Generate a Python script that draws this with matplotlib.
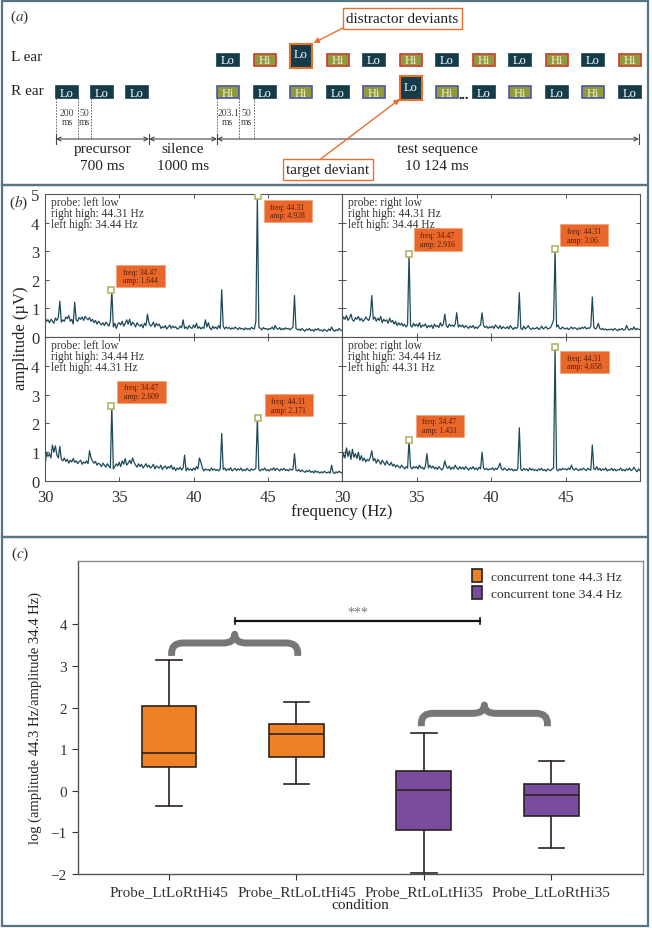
import numpy as np
import matplotlib.pyplot as plt
from matplotlib.patches import Rectangle, PathPatch, Patch
from matplotlib.path import Path

plt.rcParams['font.family'] = ['Liberation Serif', 'DejaVu Serif']
plt.rcParams['mathtext.fontset'] = 'stix'

# ---------------- data ----------------
# (a) stimulus sequence
precursor_tones = ['Lo', 'Lo', 'Lo']
left_tones = ['Lo', 'Hi', 'Lo', 'Hi', 'Lo', 'Hi', 'Lo', 'Hi', 'Lo', 'Hi', 'Lo', 'Hi']
right_tones = ['Hi', 'Lo', 'Hi', 'Lo', 'Hi', 'Lo', 'Hi', 'Lo', 'Hi', 'Lo', 'Hi', 'Lo']
left_deviant = 2
right_deviant = 5
segment_names = ['precursor', 'silence', 'test sequence']
segment_durations = ['700 ms', '1000 ms', '10 124 ms']

# (b) amplitude spectra, 30-50 Hz in 0.1 Hz steps
freq = np.round(np.arange(30, 50.05, 0.1), 1)
amp_tl = [
    0.72, 0.55, 0.60, 0.50, 0.62, 0.56, 0.48, 0.66, 0.58, 0.70,
    1.25, 0.52, 0.60, 0.55, 0.70, 0.64, 0.75, 0.55, 0.62, 0.45,
    1.22, 0.60, 0.55, 0.68, 0.62, 0.70, 0.58, 0.72, 0.65, 0.60,
    0.68, 0.55, 0.62, 0.50, 0.58, 0.45, 0.55, 0.48, 0.42, 0.50,
    0.40, 0.52, 0.45, 0.38, 0.55, 1.64, 0.35, 0.48, 0.30, 0.45,
    0.50, 0.42, 0.55, 0.38, 0.48, 0.60, 0.45, 0.62, 0.40, 0.52,
    0.45, 0.35, 0.50, 0.42, 0.38, 0.45, 0.32, 0.48, 0.40, 0.80,
    0.50, 0.38, 0.42, 0.52, 0.35, 0.48, 0.40, 0.45, 0.30, 0.36,
    0.32, 0.40, 0.28, 0.35, 0.42, 0.30, 0.38, 0.33, 0.36, 0.28,
    0.30, 0.38, 0.32, 0.60, 0.30, 0.35, 0.28, 0.40, 0.33, 0.30,
    0.42, 0.32, 0.48, 0.30, 0.36, 0.28, 0.34, 0.30, 0.60, 0.35,
    0.50, 0.32, 0.25, 0.38, 0.30, 0.35, 0.28, 0.40, 0.30, 1.65,
    0.38, 0.28, 0.35, 0.30, 0.33, 0.27, 0.32, 0.28, 0.35, 0.30,
    0.26, 0.33, 0.28, 0.30, 0.25, 0.32, 0.27, 0.30, 0.26, 0.34,
    0.30, 0.28, 0.55, 4.93, 0.35, 0.30, 0.25, 0.33, 0.28, 0.30,
    0.25, 0.30, 0.28, 0.35, 0.26, 0.40, 0.30, 0.27, 0.33, 0.25,
    0.30, 0.26, 0.32, 0.28, 0.30, 0.25, 0.30, 0.35, 1.45, 0.30,
    0.25, 0.28, 0.22, 0.30, 0.25, 0.20, 0.28, 0.24, 0.30, 0.22,
    0.26, 0.20, 0.28, 0.24, 0.30, 0.22, 0.25, 0.20, 0.27, 0.23,
    0.20, 0.28, 0.22, 0.35, 0.25, 0.20, 0.26, 0.22, 0.30, 0.24,
    0.22]
amp_tr = [
    0.55, 0.70, 0.62, 0.75, 0.58, 0.66, 0.80, 0.60, 0.55, 0.68,
    0.62, 0.72, 0.58, 0.65, 0.55, 0.60, 0.70, 0.62, 0.58, 0.75,
    1.45, 0.62, 0.70, 0.55, 0.66, 0.58, 0.72, 0.50, 0.62, 0.55,
    0.60, 0.48, 0.66, 0.52, 0.58, 0.45, 0.55, 0.40, 0.50, 0.42,
    0.48, 0.38, 0.45, 0.35, 0.42, 2.92, 0.40, 0.35, 0.48, 0.38,
    0.45, 0.36, 0.50, 0.33, 0.42, 0.38, 0.46, 0.32, 0.40, 0.35,
    0.42, 0.30, 0.45, 0.36, 0.40, 0.33, 0.50, 0.38, 0.45, 0.80,
    0.40, 0.33, 0.45, 0.38, 0.42, 0.36, 0.45, 0.85, 0.35, 0.42,
    0.36, 0.42, 0.32, 0.40, 0.35, 0.30, 0.38, 0.33, 0.40, 0.30,
    0.35, 0.30, 0.38, 0.42, 0.85, 0.40, 0.33, 0.38, 0.30, 0.36,
    0.32, 0.38, 0.30, 0.42, 0.35, 0.30, 0.40, 0.28, 0.36, 0.32,
    0.30, 0.36, 0.28, 0.40, 0.32, 0.26, 0.34, 0.30, 0.35, 1.55,
    0.30, 0.26, 0.38, 0.28, 0.33, 0.40, 0.30, 0.26, 0.32, 0.28,
    0.30, 0.34, 0.26, 0.30, 0.38, 0.28, 0.32, 0.36, 0.28, 0.30,
    0.33, 0.45, 0.60, 3.06, 0.35, 0.42, 0.30, 0.28, 0.35, 0.30,
    0.28, 0.32, 0.26, 0.30, 0.35, 0.28, 0.33, 0.30, 0.26, 0.32,
    0.28, 0.34, 0.30, 0.36, 0.28, 0.32, 0.30, 0.38, 1.40, 0.35,
    0.28, 0.32, 0.48, 0.30, 0.26, 0.30, 0.25, 0.28, 0.24, 0.27,
    0.25, 0.28, 0.23, 0.30, 0.26, 0.22, 0.28, 0.25, 0.30, 0.24,
    0.26, 0.40, 0.28, 0.24, 0.30, 0.26, 0.35, 0.25, 0.30, 0.27,
    0.26]
amp_bl = [
    0.50, 1.00, 0.85, 0.95, 0.80, 1.25, 1.00, 1.22, 0.90, 0.80,
    1.20, 0.75, 0.70, 0.80, 0.68, 0.75, 0.62, 0.72, 0.66, 0.78,
    0.65, 0.70, 0.60, 0.68, 0.72, 0.58, 0.66, 0.62, 0.70, 0.60,
    1.05, 0.80, 0.70, 0.62, 0.68, 0.55, 0.62, 0.58, 0.50, 0.62,
    0.55, 0.48, 0.60, 0.52, 0.45, 2.61, 0.42, 0.50, 0.60, 0.52,
    0.65, 0.50, 0.70, 0.58, 0.78, 0.55, 0.62, 0.72, 0.60, 0.80,
    0.65, 0.55, 0.48, 0.60, 0.50, 0.58, 0.45, 0.52, 0.60, 0.48,
    0.55, 0.45, 0.50, 0.58, 0.42, 0.52, 0.48, 0.45, 0.55, 0.40,
    0.48, 0.52, 0.42, 0.50, 0.45, 0.55, 0.40, 0.48, 0.36, 0.45,
    0.40, 0.48, 0.38, 0.45, 0.90, 0.35, 0.45, 0.38, 0.42, 0.36,
    0.45, 0.38, 0.50, 0.42, 0.80, 0.65, 0.45, 0.35, 0.42, 0.38,
    0.40, 0.35, 0.45, 0.38, 0.42, 0.36, 0.40, 0.35, 0.42, 1.65,
    0.40, 0.45, 0.36, 0.42, 0.38, 0.46, 0.35, 0.40, 0.44, 0.36,
    0.42, 0.38, 0.45, 0.35, 0.40, 0.36, 0.44, 0.38, 0.35, 0.42,
    0.38, 0.40, 0.45, 2.17, 0.40, 0.35, 0.42, 0.38, 0.45, 0.36,
    0.40, 0.35, 0.42, 0.38, 0.46, 0.36, 0.44, 0.40, 0.35, 0.42,
    0.38, 0.44, 0.36, 0.40, 0.35, 0.42, 0.38, 0.40, 0.95, 0.38,
    0.35, 0.40, 0.32, 0.38, 0.34, 0.30, 0.36, 0.32, 0.38, 0.30,
    0.34, 0.28, 0.36, 0.30, 0.33, 0.27, 0.32, 0.28, 0.34, 0.30,
    0.28, 0.32, 0.27, 0.55, 0.30, 0.26, 0.32, 0.28, 0.34, 0.30,
    0.28]
amp_br = [
    0.70, 0.95, 0.80, 1.15, 0.85, 1.05, 0.75, 1.10, 0.82, 0.95,
    0.78, 1.00, 0.72, 0.88, 0.70, 0.80, 0.66, 0.75, 0.70, 0.82,
    1.05, 0.70, 0.78, 0.62, 0.75, 0.68, 0.58, 0.72, 0.64, 0.55,
    0.70, 0.60, 0.55, 0.65, 0.52, 0.58, 0.48, 0.55, 0.50, 0.45,
    0.55, 0.48, 0.42, 0.50, 0.45, 1.43, 0.48, 0.42, 0.50, 0.45,
    0.50, 0.42, 0.55, 0.45, 0.48, 0.40, 0.52, 0.95, 0.45, 0.55,
    0.45, 0.52, 0.42, 0.48, 0.40, 0.50, 0.44, 0.38, 0.46, 0.70,
    0.50, 0.44, 0.52, 0.40, 0.48, 0.42, 0.55, 0.45, 0.40, 0.50,
    0.42, 0.48, 0.40, 0.50, 0.44, 0.38, 0.46, 0.42, 0.50, 0.40,
    0.45, 0.38, 0.48, 0.42, 1.00, 0.45, 0.40, 0.44, 0.38, 0.42,
    0.40, 0.46, 0.38, 0.44, 0.40, 0.48, 0.62, 0.42, 0.38, 0.45,
    0.40, 0.36, 0.44, 0.38, 0.42, 0.35, 0.40, 0.36, 0.44, 1.85,
    0.40, 0.36, 0.44, 0.38, 0.42, 0.35, 0.45, 0.38, 0.42, 0.36,
    0.40, 0.35, 0.42, 0.38, 0.44, 0.36, 0.40, 0.34, 0.42, 0.38,
    0.36, 0.42, 0.45, 4.66, 0.40, 0.35, 0.42, 0.38, 0.44, 0.40,
    0.42, 0.38, 0.45, 0.40, 0.55, 0.42, 0.38, 0.44, 0.40, 0.36,
    0.42, 0.38, 0.45, 0.40, 0.36, 0.44, 0.40, 0.38, 1.25, 0.42,
    0.40, 0.50, 0.38, 0.44, 0.36, 0.42, 0.38, 0.45, 0.35, 0.40,
    0.38, 0.44, 0.36, 0.42, 0.35, 0.40, 0.38, 0.45, 0.36, 0.40,
    0.35, 0.42, 0.38, 0.45, 0.36, 0.40, 0.48, 0.38, 0.32, 0.42,
    0.36]

panel_texts = [
    'probe: left low\nright high: 44.31 Hz\nleft high: 34.44 Hz',
    'probe: right low\nright high: 44.31 Hz\nleft high: 34.44 Hz',
    'probe: left low\nright high: 34.44 Hz\nleft high: 44.31 Hz',
    'probe: right low\nright high: 34.44 Hz\nleft high: 44.31 Hz',
]
tip_freq = [34.47, 44.31]
tip_amp = [[1.644, 4.928], [2.916, 3.06], [2.609, 2.171], [1.431, 4.658]]
tip_amp_text = [['1.644', '4.928'], ['2.916', '3.06'], ['2.609', '2.171'], ['1.431', '4.658']]

# (c) box statistics
conditions = ['Probe_LtLoRtHi45', 'Probe_RtLoLtHi45', 'Probe_RtLoLtHi35', 'Probe_LtLoRtHi35']
whis_lo = [-0.36, 0.16, -1.97, -1.37]
q1 = [0.57, 0.81, -0.94, -0.60]
medians = [0.91, 1.36, 0.02, -0.10]
q3 = [2.04, 1.60, 0.47, 0.17]
whis_hi = [3.14, 2.13, 1.39, 0.72]
groups = ['44.3', '44.3', '34.4', '34.4']

# ---------------- figure ----------------
W, H = 652, 929
fig = plt.figure(figsize=(W / 100, H / 100), dpi=100)
bg = fig.add_axes([0, 0, 1, 1], zorder=0)
bg.set_xlim(0, W)
bg.set_ylim(H, 0)
bg.axis('off')


def px_axes(x0, y0, x1, y1):
    return fig.add_axes([x0 / W, 1 - y1 / H, (x1 - x0) / W, (y1 - y0) / H])


frame_col = '#557583'
for (y0, y1) in [(2, 186), (186, 538), (538, 927)]:
    bg.add_patch(Rectangle((2, y0), 646, y1 - y0, fill=False, ec=frame_col, lw=1.6))

# ---------------- (a) ----------------
lo_col = '#143d49'
hi_col = '#8e9a3c'
dev_col = '#e8702c'
bg.text(10, 17, r'($a$)', fontsize=11, va='center', color='#333')
bg.text(11, 57, 'L ear', fontsize=11, va='center', color='#222')
bg.text(11, 91, 'R ear', fontsize=11, va='center', color='#222')

bw, bh = 22, 12


def tone_box(x, ytop, kind, edge=None, deviant=False):
    if deviant:
        h = 24
        y = ytop + bh + 2 - h
        bg.add_patch(Rectangle((x, y), bw, h, fc=lo_col, ec=dev_col, lw=1.5, zorder=3))
        bg.text(x + bw / 2, y + h * 0.45, kind, color='white', fontsize=9,
                ha='center', va='center', zorder=4)
        return
    fc = lo_col if kind == 'Lo' else hi_col
    ec = edge if edge else fc
    bg.add_patch(Rectangle((x, ytop), bw, bh, fc=fc, ec=ec, lw=1.2, zorder=3))
    bg.text(x + bw / 2, ytop + bh / 2 + 0.5, kind, color='white' if kind == 'Lo' else '#f1f0d2',
            fontsize=9, ha='center', va='center', zorder=4)


for k, t in enumerate(precursor_tones):
    tone_box(56 + 35 * k, 87, t)

x_test = 217
step = 36.5
for k, t in enumerate(left_tones):
    tone_box(x_test + step * k, 54.5, t, edge='#d23a2e' if t == 'Hi' else None,
             deviant=(k == left_deviant))
for k, t in enumerate(right_tones):
    tone_box(x_test + step * k, 87, t, edge='#4b57a6' if t == 'Hi' else None,
             deviant=(k == right_deviant))
bg.text(x_test + step * 6 + bw + 0.5, 95, '...', fontsize=10, fontweight='bold',
        ha='left', va='center', color='#111', zorder=5)

# dashed markers and tone/gap durations
for xs, labels in [([56, 78, 91], ['200\nms', '50\nms']), ([217, 239, 254], ['203.1\nms', '50\nms'])]:
    for x in xs:
        bg.plot([x, x], [99, 140], ls=(0, (2, 1.5)), color='#555', lw=0.6, zorder=2)
    for i, lab in enumerate(labels):
        bg.text((xs[i] + xs[i + 1]) / 2, 118, lab, fontsize=7, ha='center', va='center',
                color='#444', linespacing=0.9, zorder=1)

bounds = [56, 149, 217, 639]
for i, name in enumerate(segment_names):
    bg.annotate('', xy=(bounds[i], 140), xytext=(bounds[i + 1], 140),
                arrowprops=dict(arrowstyle='<->', color='#444', lw=0.8,
                                shrinkA=0, shrinkB=0, mutation_scale=7))
    xc = (bounds[i] + bounds[i + 1]) / 2
    if i == 2:
        xc = 437
    bg.text(xc, 149, name, fontsize=11, ha='center', va='center', color='#222')
    bg.text(xc, 166, segment_durations[i], fontsize=11, ha='center', va='center', color='#222')
for x in bounds:
    bg.plot([x, x], [135, 145], color='#444', lw=0.8)

# callouts
bg.text(402.5, 19.5, 'distractor deviants', fontsize=11, ha='center', va='center', color='#222',
        bbox=dict(boxstyle='square,pad=0.25', fc='white', ec=dev_col, lw=1.0), zorder=5)
bg.annotate('', xy=(313.5, 44), xytext=(343, 29),
            arrowprops=dict(arrowstyle='-|>', color=dev_col, lw=1.0, shrinkA=0, shrinkB=0,
                            mutation_scale=8))
bg.text(328, 170.5, 'target deviant', fontsize=11, ha='center', va='center', color='#222',
        bbox=dict(boxstyle='square,pad=0.25', fc='white', ec=dev_col, lw=1.0), zorder=5)
bg.annotate('', xy=(400, 100), xytext=(318, 162),
            arrowprops=dict(arrowstyle='-|>', color=dev_col, lw=1.0, shrinkA=0, shrinkB=0,
                            mutation_scale=8), zorder=4)

# ---------------- (b) ----------------
ax_tl = px_axes(45, 195, 342, 338)
ax_tr = px_axes(342, 195, 640, 338)
ax_bl = px_axes(45, 338, 342, 482)
ax_br = px_axes(342, 338, 640, 482)
spec_axes = [ax_tl, ax_tr, ax_bl, ax_br]
spectra = [amp_tl, amp_tr, amp_bl, amp_br]
tip_offsets = [[(3, 3, 'bottom'), (4, -4, 'top')], [(3, 3, 'bottom'), (3, 3, 'bottom')],
               [(4, 3, 'bottom'), (5, 2, 'bottom')], [(5, 3, 'bottom'), (3, -4, 'top')]]

for i, ax in enumerate(spec_axes):
    ax.plot(freq, spectra[i], color='#1d4a5a', lw=0.9)
    ax.set_xlim(30, 50)
    ax.set_ylim(0, 5)
    ax.set_xticks([30, 35, 40, 45])
    ax.set_yticks([0, 1, 2, 3, 4, 5])
    ax.tick_params(direction='in', length=3, width=0.6, top=True, right=True,
                   labelsize=12, colors='#333', pad=5.5)
    ax.tick_params(axis='y', pad=4)
    for s in ax.spines.values():
        s.set_color('#555')
        s.set_linewidth(0.8)
    ax.text(0.02, 0.985, panel_texts[i], transform=ax.transAxes, fontsize=8.3, va='top',
            ha='left', color='#333', linespacing=0.9)
    for j in range(2):
        f, a = tip_freq[j], tip_amp[i][j]
        ax.plot([f], [a], marker='s', ms=5, mfc='white', mec='#b3b36a', mew=1.2, zorder=5)
        dx, dy, va = tip_offsets[i][j]
        pad_px = 2.8
        ax.annotate('  freq: %.2f  \n  amp: %s  ' % (f, tip_amp_text[i][j]), xy=(f, a),
                    xytext=((dx + pad_px + 2) * 0.72,
                            (dy + pad_px) * 0.72 if va == 'bottom' else (dy - pad_px) * 0.72),
                    textcoords='offset points', fontsize=5.6, ha='left', va=va,
                    color='#5a1e05', linespacing=1.1, zorder=6,
                    bbox=dict(boxstyle='square,pad=0.35', fc='#e9672b', ec='#f2a47a', lw=0.6))

ax_tl.tick_params(labelbottom=False)
ax_tr.tick_params(labelbottom=False, labelleft=False)
ax_br.tick_params(labelleft=False)
ax_bl.set_yticks([0, 1, 2, 3, 4])
fig.text(342 / W, 1 - 512 / H, 'frequency (Hz)', fontsize=12, ha='center', va='center', color='#222')
fig.text(21 / W, 1 - 338 / H, 'amplitude (µV)', fontsize=12, ha='center', va='center',
         rotation=90, color='#222')
bg.text(9, 203, r'($b$)', fontsize=11, va='center', color='#333')

# ---------------- (c) ----------------
axc = px_axes(78, 562, 643, 875)
colors = {'44.3': '#ef8125', '34.4': '#7a4c9f'}
stats = []
for i in range(4):
    stats.append(dict(whislo=whis_lo[i], q1=q1[i], med=medians[i], q3=q3[i],
                      whishi=whis_hi[i], fliers=[]))
bp = axc.bxp(stats, positions=range(4), widths=0.43, patch_artist=True, showfliers=False,
             capwidths=0.2,
             boxprops=dict(ec='#2b2320', lw=1.2),
             medianprops=dict(color='#2b2320', lw=1.2),
             whiskerprops=dict(color='#2b2320', lw=1.2),
             capprops=dict(color='#2b2320', lw=1.2))
for patch, g in zip(bp['boxes'], groups):
    patch.set_facecolor(colors[g])

axc.set_xlim(-0.715, 3.72)
axc.set_ylim(-2, 5.52)
axc.set_yticks([-2, -1, 0, 1, 2, 3, 4])
axc.set_yticklabels(['\u22122', '\u22121', '0', '1', '2', '3', '4'])
axc.set_xticks(range(4))
axc.set_xticklabels(conditions)
axc.tick_params(direction='out', length=4, width=0.8, labelsize=11, colors='#333', pad=4)
for s in axc.spines.values():
    s.set_color('#8a8a8a')
    s.set_linewidth(1.0)
axc.spines['left'].set_color('#555')
axc.spines['bottom'].set_color('#555')
axc.set_xlabel('condition', fontsize=11, color='#222', labelpad=0)
axc.set_ylabel('log (amplitude 44.3 Hz/amplitude 34.4 Hz)', fontsize=10.5, color='#222', labelpad=6)


def brace(ax, x0, x1, ybase, yflat, ytip, rx, ry):
    xm = (x0 + x1) / 2
    verts = [(x0, ybase), (x0, yflat - ry), (x0, yflat), (x0 + rx, yflat),
             (xm - rx, yflat), (xm, yflat), (xm, ytip),
             (xm, yflat), (xm + rx, yflat),
             (x1 - rx, yflat), (x1, yflat), (x1, yflat - ry), (x1, ybase)]
    codes = [Path.MOVETO, Path.LINETO, Path.CURVE3, Path.CURVE3,
             Path.LINETO, Path.CURVE3, Path.CURVE3,
             Path.CURVE3, Path.CURVE3,
             Path.LINETO, Path.CURVE3, Path.CURVE3, Path.LINETO]
    ax.add_patch(PathPatch(Path(verts, codes), fill=False, ec='#777777', lw=5,
                           capstyle='butt', joinstyle='round', zorder=4))


brace(axc, 0.02, 1.01, 3.24, 3.55, 3.76, 0.09, 0.24)
brace(axc, 1.98, 2.97, 1.55, 1.86, 2.06, 0.09, 0.24)

axc.plot([0.52, 2.44], [4.07, 4.07], color='#111', lw=1.6)
for x in [0.52, 2.44]:
    axc.plot([x, x], [4.0, 4.14], color='#111', lw=1.2)
axc.text(1.48, 4.3, '***', fontsize=10, ha='center', va='center', color='#777')

handles = [Patch(fc=colors['44.3'], ec='#222', lw=1.2, label='concurrent tone 44.3 Hz'),
           Patch(fc=colors['34.4'], ec='#222', lw=1.2, label='concurrent tone 34.4 Hz')]
axc.legend(handles=handles, loc='upper right', bbox_to_anchor=(0.977, 1.0), frameon=False,
           fontsize=9.7, handlelength=0.75, handleheight=1.15, handletextpad=0.7,
           labelspacing=0.2, borderaxespad=0.2, labelcolor='#333')
bg.text(11, 554, r'($c$)', fontsize=11, va='center', color='#333')

fig.savefig('out.png', dpi=100)
